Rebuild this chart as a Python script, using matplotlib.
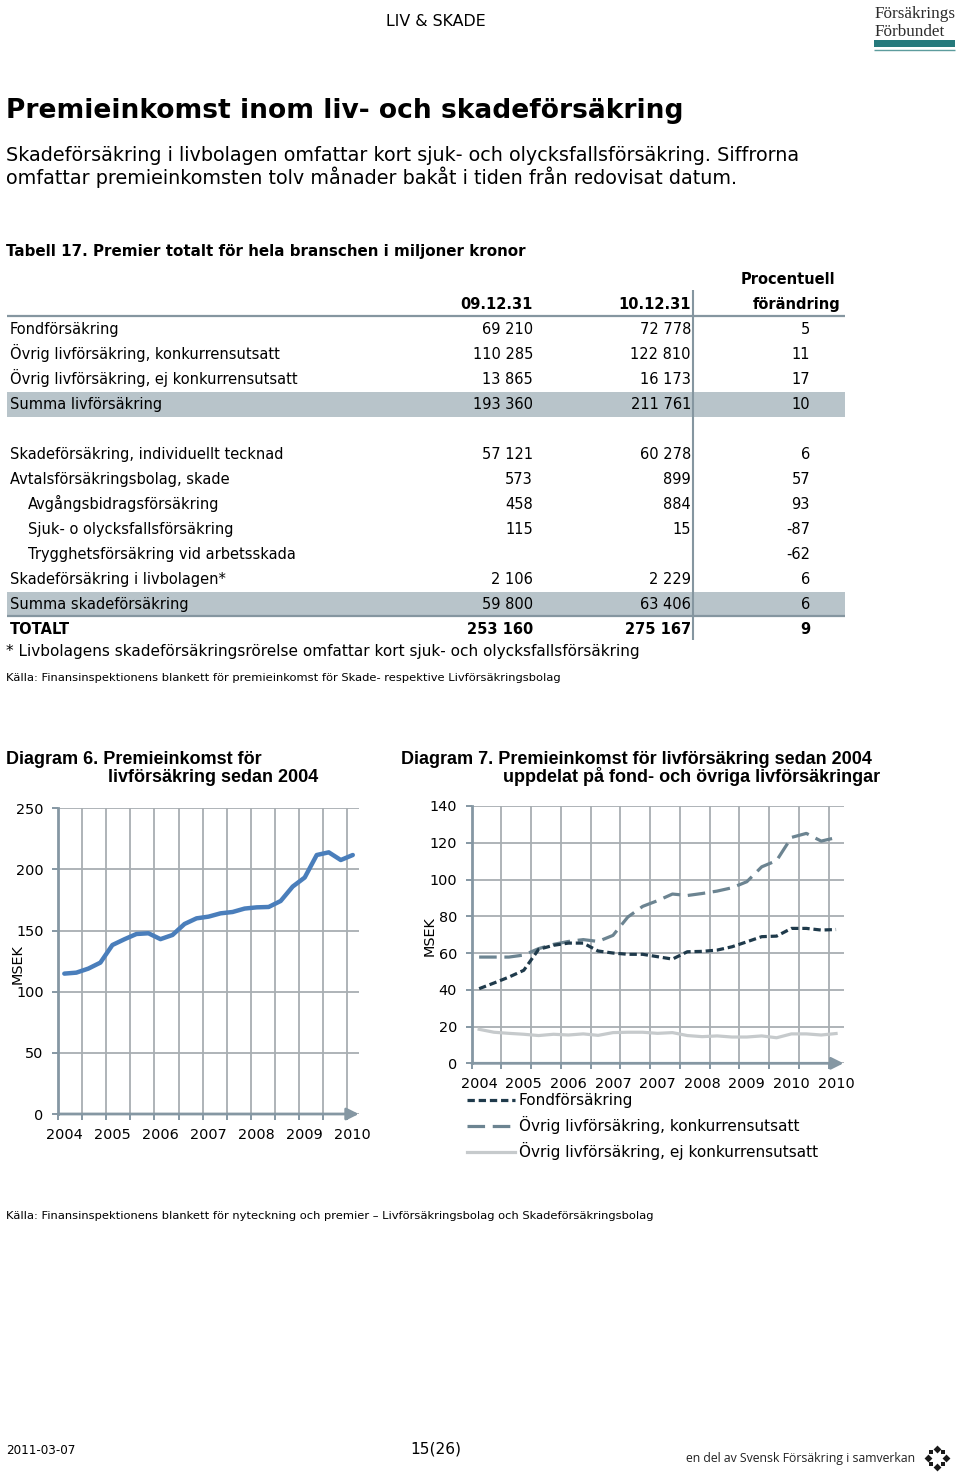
import matplotlib
matplotlib.use('Agg')
import matplotlib.pyplot as plt
from matplotlib.lines import Line2D
from matplotlib.patches import Rectangle
from matplotlib import font_manager
import numpy as np

# ---------------- data ----------------
# quarterly, rolling 12 months, 2004 Q4 .. 2010 Q4
ar_kvartal = [2004] + [2005] * 4 + [2006] * 4 + [2007] * 4 + [2008] * 4 + [2009] * 4 + [2010] * 4

premie_liv_totalt = [114.8, 115.6, 118.9, 123.8, 138.2, 142.9, 147.2, 147.8, 143.0, 146.4,
                     155.4, 160.0, 161.4, 164.1, 165.2, 168.0, 169.0, 169.3, 174.2, 186.0,
                     193.4, 211.8, 214.0, 207.7, 211.8]

fond = [40.6, 43.7, 46.9, 50.6, 62.0, 64.2, 65.4, 65.4, 61.1, 60.0, 59.3, 59.3, 58.0,
        56.7, 60.7, 60.9, 61.6, 63.4, 66.1, 68.9, 69.2, 73.4, 73.4, 72.5, 72.8]
ovrig_konk = [57.8, 57.8, 57.8, 58.9, 62.4, 64.7, 66.3, 67.3, 66.3, 69.6, 79.6, 85.4, 88.5,
              92.1, 91.3, 92.4, 93.7, 95.5, 98.8, 106.9, 110.3, 122.9, 125.1, 120.9, 122.8]
ovrig_ej_konk = [18.5, 16.9, 16.3, 15.8, 15.1, 15.8, 15.4, 16.0, 15.2, 16.7, 16.9, 16.9, 16.3,
                 16.7, 15.1, 14.5, 14.9, 14.3, 14.3, 14.9, 13.9, 16.0, 16.0, 15.4, 16.2]
serie_namn = ['Fondförsäkring', 'Övrig livförsäkring, konkurrensutsatt',
              'Övrig livförsäkring, ej konkurrensutsatt']

tabell_rader = ['Fondförsäkring', 'Övrig livförsäkring, konkurrensutsatt',
                'Övrig livförsäkring, ej konkurrensutsatt', 'Summa livförsäkring',
                'Skadeförsäkring, individuellt tecknad', 'Avtalsförsäkringsbolag, skade',
                'Avgångsbidragsförsäkring', 'Sjuk- o olycksfallsförsäkring',
                'Trygghetsförsäkring vid arbetsskada', 'Skadeförsäkring i livbolagen*',
                'Summa skadeförsäkring', 'TOTALT']
tabell_09 = [69210, 110285, 13865, 193360, 57121, 573, 458, 115, None, 2106, 59800, 253160]
tabell_10 = [72778, 122810, 16173, 211761, 60278, 899, 884, 15, None, 2229, 63406, 275167]
tabell_proc = [5, 11, 17, 10, 6, 57, 93, -87, -62, 6, 6, 9]
tabell_indrag = [False, False, False, False, False, False, True, True, True, False, False, False]
tabell_summa = [False, False, False, True, False, False, False, False, False, False, True, False]
tabell_fet = [False] * 11 + [True]
kolumn_rubriker = ['09.12.31', '10.12.31', 'Procentuell', 'förändring']

# ---------------- figure helpers ----------------
W, H = 960, 1475
fig = plt.figure(figsize=(W / 100, H / 100), dpi=100)
fig.patch.set_facecolor('white')
renderer = fig.canvas.get_renderer()

names = {f.name for f in font_manager.fontManager.ttflist}
NARROW = 'Liberation Sans Narrow' if 'Liberation Sans Narrow' in names else 'Liberation Sans'
SERIF = 'Liberation Serif' if 'Liberation Serif' in names else 'DejaVu Serif'
HUMAN = 'Open Sans' if 'Open Sans' in names else 'DejaVu Sans'


def fx(x):
    return x / W


def fy(y):
    return 1 - y / H


def fit_size(s, width, **kw):
    t = fig.text(0, 0, s, fontsize=10, **kw)
    w = t.get_window_extent(renderer).width
    t.remove()
    return 10 * width / w


def txt(x, y, s, size, ha='left', **kw):
    # y is the visual centre of the (x-height/cap) band; place by baseline
    base = y + 0.36 * size * 100 / 72
    return fig.text(fx(x), fy(base), s, fontsize=size, ha=ha, va='baseline', **kw)


def hline(x1, x2, y, color, lw):
    fig.add_artist(Line2D([fx(x1), fx(x2)], [fy(y), fy(y)], transform=fig.transFigure,
                          color=color, lw=lw, solid_capstyle='butt'))


def vline(x, y1, y2, color, lw):
    fig.add_artist(Line2D([fx(x), fx(x)], [fy(y1), fy(y2)], transform=fig.transFigure,
                          color=color, lw=lw, solid_capstyle='butt'))


def fmt(v):
    return '' if v is None else f'{v:,}'.replace(',', ' ')


# ---------------- header ----------------
s = fit_size('LIV & SKADE', 100)
txt(436, 20, 'LIV & SKADE', s, ha='center')

s = fit_size('Försäkrings', 81, family=SERIF)
txt(875, 12, 'Försäkrings', s, family=SERIF, color='#2b2b2b')
txt(875, 30, 'Förbundet', s, family=SERIF, color='#2b2b2b')
fig.add_artist(Rectangle((fx(874), fy(46.5)), 81 / W, 6 / H, transform=fig.transFigure,
                         color='#25797B', lw=0))
hline(874, 955, 49.5, '#5D9C9D', 1.0)

title = 'Premieinkomst inom liv- och skadeförsäkring'
s = fit_size(title, 676, weight='bold')
txt(6, 108, title, s, weight='bold')

l1 = 'Skadeförsäkring i livbolagen omfattar kort sjuk- och olycksfallsförsäkring. Siffrorna'
l2 = 'omfattar premieinkomsten tolv månader bakåt i tiden från redovisat datum.'
s = fit_size(l1, 792)
txt(6, 154, l1, s)
txt(6, 177, l2, s)

tt = 'Tabell 17. Premier totalt för hela branschen i miljoner kronor'
s = fit_size(tt, 521, weight='bold')
txt(6, 251, tt, s, weight='bold')

# ---------------- table ----------------
ts = fit_size('Övrig livförsäkring, konkurrensutsatt', 269)
shade = '#B8C4CA'
linec = '#8596A0'
row_y = [329 + 25 * i for i in range(4)] + [454 + 25 * i for i in range(8)]

for i, y in enumerate(row_y):
    if tabell_summa[i]:
        fig.add_artist(Rectangle((fx(7), fy(y + 12.5)), 838 / W, 25 / H,
                                 transform=fig.transFigure, color=shade, lw=0, zorder=0))

hline(7, 845, 316, linec, 1.6)
hline(7, 845, row_y[10] + 12.5, linec, 1.6)
vline(693, 290, 640, linec, 1.5)

txt(533, 304, kolumn_rubriker[0], ts, ha='right', weight='bold')
txt(691, 304, kolumn_rubriker[1], ts, ha='right', weight='bold')
txt(788, 279, kolumn_rubriker[2], ts, ha='center', weight='bold')
txt(796.5, 304, kolumn_rubriker[3], ts, ha='center', weight='bold')

for i, y in enumerate(row_y):
    w = 'bold' if tabell_fet[i] else 'normal'
    x0 = 28 if tabell_indrag[i] else 10
    txt(x0, y, tabell_rader[i], ts, weight=w)
    txt(533, y, fmt(tabell_09[i]), ts, ha='right', weight=w)
    txt(691, y, fmt(tabell_10[i]), ts, ha='right', weight=w)
    txt(810, y, fmt(tabell_proc[i]), ts, ha='right', weight=w)

fn = '* Livbolagens skadeförsäkringsrörelse omfattar kort sjuk- och olycksfallsförsäkring'
s = fit_size(fn, 632)
txt(6, 651, fn, s)

k1 = 'Källa: Finansinspektionens blankett för premieinkomst för Skade- respektive Livförsäkringsbolag'
ks = fit_size(k1, 552)
txt(6, 677, k1, ks)

# ---------------- diagram titles ----------------
d1 = 'Diagram 6. Premieinkomst för'
ds = fit_size(d1, 256, family=NARROW, weight='bold')
txt(6, 758, d1, ds, family=NARROW, weight='bold')
txt(108, 776, 'livförsäkring sedan 2004', ds, family=NARROW, weight='bold')
txt(401, 758, 'Diagram 7. Premieinkomst för livförsäkring sedan 2004', ds, family=NARROW, weight='bold')
txt(503, 776, 'uppdelat på fond- och övriga livförsäkringar', ds, family=NARROW, weight='bold')

# ---------------- charts ----------------
gridc = '#A8AEB2'
axc = '#8597A3'
tick_fs = 10.4


def style_axis(ax, n, ymax, ystep, lab_every):
    ax.set_xlim(-0.5, n - 0.5)
    ax.set_ylim(0, ymax)
    ax.set_yticks(np.arange(0, ymax + 1, ystep))
    ax.set_xticks(np.arange(-0.5, n - 1, 2))
    ax.set_xticklabels([])
    pos = list(range(0, n, lab_every))
    ax.set_xticks(pos, minor=True)
    ax.set_xticklabels([str(ar_kvartal[i]) for i in pos], minor=True)
    ax.tick_params(axis='x', which='minor', length=0, pad=10, labelsize=tick_fs)
    ax.tick_params(axis='x', which='major', length=4, width=1.4, color=axc, direction='out')
    ax.tick_params(axis='y', length=4, width=1.4, color=axc, pad=6.5, labelsize=tick_fs)
    ax.grid(True, which='major', color=gridc, lw=1.3)
    ax.set_axisbelow(True)
    for sp in ['top', 'right', 'bottom']:
        ax.spines[sp].set_visible(False)
    ax.spines['left'].set_color(axc)
    ax.spines['left'].set_linewidth(2)
    ax.annotate('', xy=(n - 0.5, 0), xytext=(-0.5, 0), xycoords='data',
                arrowprops=dict(arrowstyle='-|>', color=axc, lw=2, mutation_scale=18,
                                shrinkA=0, shrinkB=0), annotation_clip=False)


n = len(premie_liv_totalt)
x = np.arange(n)

ax1 = fig.add_axes([fx(58.3), fy(1114), 300.5 / W, 305.7 / H])
ax1.plot(x, premie_liv_totalt, color='#4A7EBB', lw=3.2, solid_joinstyle='round',
         solid_capstyle='round')
style_axis(ax1, n, 250, 50, 4)
ms = fit_size('MSEK', 40)
fig.text(fx(18), fy(964), 'MSEK', fontsize=ms, rotation=90, ha='center', va='center')

ax2 = fig.add_axes([fx(471.7), fy(1063.3), 371.8 / W, 257.3 / H])
styles = [dict(color='#1F3A4B', ls=(0, (2.3, 1.2))),
          dict(color='#6C8491', ls=(0, (5.5, 2.4))),
          dict(color='#C6CACC', ls='-')]
for ser, st in zip([ovrig_ej_konk, ovrig_konk, fond], styles[::-1]):
    ax2.plot(x, ser, lw=2.3, **st)
style_axis(ax2, n, 140, 20, 3)
fig.text(fx(430), fy(936), 'MSEK', fontsize=ms, rotation=90, ha='center', va='center')

# legend (manual)
lg_fs = fit_size(serie_namn[1], 279)
for i, (name, st) in enumerate(zip(serie_namn, styles)):
    y = 1100 + 26 * i
    fig.add_artist(Line2D([fx(467), fx(515)], [fy(y), fy(y)], transform=fig.transFigure,
                          lw=2.3, **st))
    txt(519, y, name, lg_fs)

# ---------------- footer ----------------
k2 = 'Källa: Finansinspektionens blankett för nyteckning och premier – Livförsäkringsbolag och Skadeförsäkringsbolag'
txt(6, 1215, k2, ks)

s = fit_size('2011-03-07', 69)
txt(6, 1450, '2011-03-07', s)
s = fit_size('15(26)', 51)
txt(435.5, 1448, '15(26)', s, ha='center')
en = 'en del av Svensk Försäkring i samverkan'
s = fit_size(en, 229, family=HUMAN)
txt(686, 1458, en, s, family=HUMAN, color='#222222')

axi = fig.add_axes([fx(924), fy(1471), 26 / W, 26 / H])
ang = np.deg2rad(np.arange(90, -270, -45))
sizes = [16, 12, 16, 12, 16, 12, 16, 12]
marks = ['D', 's', 'D', 's', 'D', 's', 'D', 's']
for a, sz, m in zip(ang, sizes, marks):
    axi.scatter(np.cos(a), np.sin(a), s=sz, marker=m, color='#1a1a1a', lw=0)
axi.set_xlim(-1.5, 1.5)
axi.set_ylim(-1.5, 1.5)
axi.axis('off')

fig.savefig('out.png', dpi=100, facecolor='white')
